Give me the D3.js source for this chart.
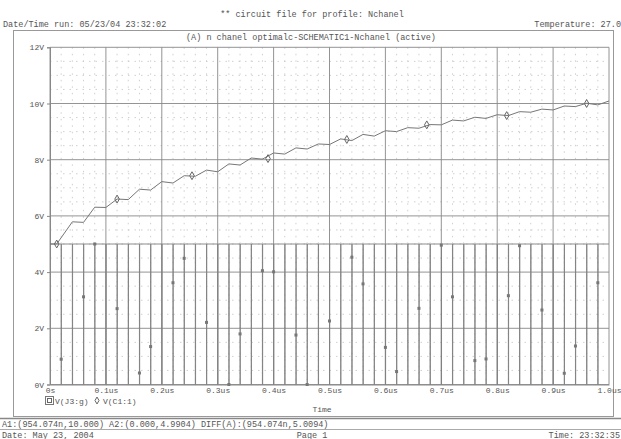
<!DOCTYPE html>
<html>
<head>
<meta charset="utf-8">
<script src="https://cdn.jsdelivr.net/npm/d3@7"></script>
<style>
  body { margin: 0; background: #fff; }
  text { font-family: "Liberation Mono", "DejaVu Sans Mono", monospace; fill: #555; }
</style>
</head>
<body>
<div class="canvas"></div>
<script>
// tick labels
const xTicks = [0, 0.1, 0.2, 0.3, 0.4, 0.5, 0.6, 0.7, 0.8, 0.9, 1.0];
const xTickLabels = ['0s', '0.1us', '0.2us', '0.3us', '0.4us', '0.5us', '0.6us', '0.7us', '0.8us', '0.9us', '1.0us'];
const yTicks = [0, 2, 4, 6, 8, 10, 12];
const yTickLabels = ['0V', '2V', '4V', '6V', '8V', '10V', '12V'];

// V(C1:1) - capacitor voltage (time in us, volts)
const capT = [0, 0.012, 0.04, 0.06, 0.08, 0.10, 0.12, 0.14, 0.16, 0.18, 0.20, 0.22, 0.24, 0.26, 0.28, 0.30,
  0.32, 0.34, 0.36, 0.38, 0.40, 0.42, 0.44, 0.46, 0.48, 0.50, 0.52, 0.54, 0.56, 0.58, 0.60, 0.62,
  0.64, 0.66, 0.68, 0.70, 0.72, 0.74, 0.76, 0.78, 0.80, 0.82, 0.84, 0.86, 0.88, 0.90, 0.92, 0.94,
  0.96, 0.98, 1.00];
const capV = [5.0, 5.0, 5.79, 5.77, 6.31, 6.30, 6.60, 6.58, 6.95, 6.92, 7.22, 7.17, 7.43, 7.41, 7.63, 7.57,
  7.85, 7.81, 8.06, 8.02, 8.24, 8.20, 8.42, 8.38, 8.56, 8.54, 8.74, 8.68, 8.90, 8.84, 9.03, 9.00,
  9.14, 9.12, 9.25, 9.24, 9.41, 9.38, 9.51, 9.47, 9.60, 9.57, 9.71, 9.69, 9.80, 9.77, 9.91, 9.89,
  10.01, 9.95, 10.09];
const capMarkT = [0.012, 0.12, 0.254, 0.39, 0.531, 0.674, 0.817, 0.96];
const capMarkV = [5.0, 6.6, 7.43, 8.04, 8.72, 9.24, 9.57, 10.0];

// V(J3:g) - gate pulse: level 5V, drops to 0V at each edge time
const gateHigh = 5;
const gateLow = 0;
const gateLowWidth = 0.0004;
const gateEdges = [0.02, 0.04, 0.06, 0.08, 0.10, 0.12, 0.14, 0.16, 0.18, 0.20, 0.22, 0.24, 0.26, 0.28, 0.30,
  0.32, 0.34, 0.36, 0.38, 0.40, 0.42, 0.44, 0.46, 0.48, 0.50, 0.52, 0.54, 0.56, 0.58, 0.60, 0.62,
  0.64, 0.66, 0.68, 0.70, 0.72, 0.74, 0.76, 0.78, 0.80, 0.82, 0.84, 0.86, 0.88, 0.90, 0.92, 0.94,
  0.96, 0.98];
const gateMarkT = [0.02, 0.06, 0.08, 0.12, 0.16, 0.18, 0.22, 0.24, 0.28, 0.32, 0.34, 0.38, 0.40, 0.44, 0.46,
  0.50, 0.54, 0.56, 0.60, 0.62, 0.66, 0.70, 0.72, 0.76, 0.78, 0.82, 0.84, 0.88, 0.92, 0.94, 0.98];
const gateMarkV = [0.9, 3.12, 5.0, 2.7, 0.41, 1.35, 3.62, 4.49, 2.21, 0.0, 1.8, 4.05, 4.01, 1.76, 0.0,
  2.26, 4.53, 3.58, 1.32, 0.46, 2.71, 4.96, 3.12, 0.85, 0.91, 3.16, 4.94, 2.65, 0.4, 1.37, 3.62];

const svg = d3.select('.canvas')
  .append('svg')
    .attr('width', 621)
    .attr('height', 439);

// plot area
const plot = {left: 50, right: 609, top: 47.3, bottom: 384.5};

const x = d3.scaleLinear().domain([0, 1]).range([plot.left, plot.right]);
const y = d3.scaleLinear().domain([0, 12]).range([plot.bottom, plot.top]);

// page header / frame
svg.append('text').attr('x', 312).attr('y', 17).attr('text-anchor', 'middle')
  .style('font-size', '8.5px').text('** circuit file for profile: Nchanel');
svg.append('text').attr('x', 3).attr('y', 27)
  .style('font-size', '8.5px').text('Date/Time run: 05/23/04 23:32:02');
svg.append('text').attr('x', 621).attr('y', 27).attr('text-anchor', 'end')
  .style('font-size', '8.5px').text('Temperature: 27.0');

svg.append('rect')
  .attr('x', 13.5).attr('y', 30.5).attr('width', 600).attr('height', 386)
  .attr('fill', 'none').attr('stroke', '#999');
svg.append('text').attr('x', 311).attr('y', 40).attr('text-anchor', 'middle')
  .style('font-size', '8.5px').text('(A) n chanel optimalc-SCHEMATIC1-Nchanel (active)');

// grid
const grid = svg.append('g');
grid.selectAll('line.minor-x')
  .data(d3.range(0, 50).map(i => i / 50).filter((d, i) => i % 5 !== 0))
  .enter().append('line')
    .attr('x1', d => x(d)).attr('x2', d => x(d))
    .attr('y1', plot.top).attr('y2', plot.bottom)
    .attr('stroke', '#c4c4c4').attr('stroke-width', 0.8).attr('stroke-dasharray', '1.5,5');
grid.selectAll('line.minor-y')
  .data(d3.range(0, 24).map(i => i / 2).filter((d, i) => i % 4 !== 0))
  .enter().append('line')
    .attr('x1', plot.left).attr('x2', plot.right)
    .attr('y1', d => y(d)).attr('y2', d => y(d))
    .attr('stroke', '#c4c4c4').attr('stroke-width', 0.8).attr('stroke-dasharray', '1.5,5');
grid.selectAll('line.major-x')
  .data(xTicks)
  .enter().append('line')
    .attr('x1', d => x(d)).attr('x2', d => x(d))
    .attr('y1', plot.top).attr('y2', plot.bottom)
    .attr('stroke', '#888').attr('stroke-width', 0.9);
grid.selectAll('line.major-y')
  .data(yTicks)
  .enter().append('line')
    .attr('x1', plot.left).attr('x2', plot.right)
    .attr('y1', d => y(d)).attr('y2', d => y(d))
    .attr('stroke', '#888').attr('stroke-width', 0.9);

// axes
const yAxis = d3.axisLeft(y).tickValues(yTicks).tickSize(3)
  .tickFormat((d, i) => yTickLabels[i]);
const xAxis = d3.axisBottom(x).tickValues(xTicks).tickSize(0).tickPadding(3)
  .tickFormat((d, i) => xTickLabels[i]);

const yAxisGroup = svg.append('g').attr('transform', `translate(${plot.left}, 0)`).call(yAxis);
const xAxisGroup = svg.append('g').attr('transform', `translate(0, ${plot.bottom})`).call(xAxis);
[yAxisGroup, xAxisGroup].forEach(g => {
  g.select('.domain').attr('stroke', '#888');
  g.selectAll('.tick line').attr('stroke', '#888');
  g.selectAll('.tick text').style('font-size', '8px').attr('fill', '#555')
    .style('font-family', '"Liberation Mono", monospace');
});

// V(J3:g) pulse trace
const gatePts = [[0, gateHigh]];
gateEdges.forEach(t => {
  gatePts.push([t, gateHigh], [t, gateLow], [t + gateLowWidth, gateLow], [t + gateLowWidth, gateHigh]);
});
gatePts.push([1, gateHigh]);

const line = d3.line().x(d => x(d[0])).y(d => y(d[1]));

svg.append('path')
  .datum(gatePts)
  .attr('d', line)
  .attr('fill', 'none').attr('stroke', '#808080').attr('stroke-width', 0.9);

// V(C1:1) trace
svg.append('path')
  .datum(capT.map((t, i) => [t, capV[i]]))
  .attr('d', line)
  .attr('fill', 'none').attr('stroke', '#777').attr('stroke-width', 1);

// markers
svg.selectAll('rect.gm')
  .data(gateMarkT.map((t, i) => [t, gateMarkV[i]]))
  .enter().append('rect')
    .attr('x', d => x(d[0]) - 1.5).attr('y', d => y(d[1]) - 1.5)
    .attr('width', 3).attr('height', 3)
    .attr('fill', '#777');
svg.selectAll('path.cm')
  .data(capMarkT.map((t, i) => [t, capMarkV[i]]))
  .enter().append('path')
    .attr('transform', d => `translate(${x(d[0])}, ${y(d[1])})`)
    .attr('d', d3.symbol(d3.symbolDiamond, 18))
    .attr('fill', 'none').attr('stroke', '#666').attr('stroke-width', 1);

// legend
const legend = svg.append('g').attr('transform', 'translate(45, 403)');
legend.append('rect').attr('x', 0.5).attr('y', -6.5).attr('width', 8).attr('height', 8)
  .attr('fill', 'none').attr('stroke', '#777');
legend.append('rect').attr('x', 2.5).attr('y', -4.5).attr('width', 4).attr('height', 4)
  .attr('fill', 'none').attr('stroke', '#666');
legend.append('text').attr('x', 10).attr('y', 1).style('font-size', '8px').text('V(J3:g)');
legend.append('path').attr('transform', 'translate(52, -2.5)')
  .attr('d', d3.symbol(d3.symbolDiamond, 14))
  .attr('fill', 'none').attr('stroke', '#666');
legend.append('text').attr('x', 58).attr('y', 1).style('font-size', '8px').text('V(C1:1)');

svg.append('text').attr('x', 322).attr('y', 412).attr('text-anchor', 'middle')
  .style('font-size', '8px').text('Time');

// cursor readout / footer
svg.append('line').attr('x1', 0).attr('x2', 621).attr('y1', 418.5).attr('y2', 418.5)
  .attr('stroke', '#888').attr('stroke-width', 1.5);
svg.append('text').attr('x', 2).attr('y', 427)
  .style('font-size', '8.5px').text('A1:(954.074n,10.000)  A2:(0.000,4.9904)  DIFF(A):(954.074n,5.0094)');
svg.append('line').attr('x1', 0).attr('x2', 621).attr('y1', 429.5).attr('y2', 429.5)
  .attr('stroke', '#aaa');
svg.append('text').attr('x', 2).attr('y', 437.5)
  .style('font-size', '8.5px').text('Date: May 23, 2004');
svg.append('text').attr('x', 312).attr('y', 437.5).attr('text-anchor', 'middle')
  .style('font-size', '8.5px').text('Page 1');
svg.append('text').attr('x', 620).attr('y', 437.5).attr('text-anchor', 'end')
  .style('font-size', '8.5px').text('Time: 23:32:35');
</script>
</body>
</html>
